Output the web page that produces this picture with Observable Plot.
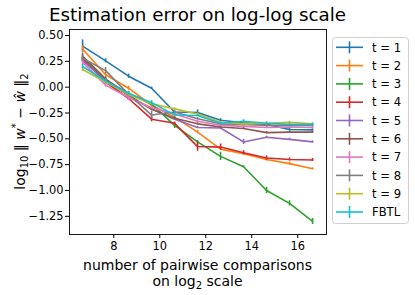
<!DOCTYPE html>
<html>
<head>
<meta charset="utf-8">
<script src="https://cdn.jsdelivr.net/npm/d3@7"></script>
<script src="https://cdn.jsdelivr.net/npm/@observablehq/plot@0.6"></script>
<style>
  html, body { margin: 0; padding: 0; background: #fff; }
  #chart svg { display: block; }
</style>
</head>
<body>
<div id="chart"></div>
<script>
// log2(number of pairwise comparisons)
const xs = [6.644, 7.644, 8.644, 9.644, 10.644, 11.644, 12.644, 13.644, 14.644, 15.644, 16.644];
const seriesNames = ["t = 1", "t = 2", "t = 3", "t = 4", "t = 5", "t = 6", "t = 7", "t = 8", "t = 9", "FBTL"];
const colors = ["#1f77b4", "#ff7f0e", "#2ca02c", "#d62728", "#9467bd", "#8c564b", "#e377c2", "#7f7f7f", "#bcbd22", "#17becf"];

const t1 = [0.397, 0.255, 0.106, -0.01, -0.24, -0.245, -0.32, -0.345, -0.36, -0.41, -0.413];
const t2 = [0.37, 0.12, -0.01, -0.175, -0.29, -0.435, -0.6, -0.645, -0.70, -0.74, -0.79];
const t3 = [0.28, 0.07, -0.06, -0.165, -0.37, -0.53, -0.67, -0.77, -1.00, -1.125, -1.30];
const t4 = [0.27, 0.05, -0.11, -0.31, -0.35, -0.575, -0.58, -0.635, -0.685, -0.70, -0.705];
const t5 = [0.26, 0.06, -0.08, -0.21, -0.31, -0.39, -0.395, -0.53, -0.485, -0.505, -0.53];
const t6 = [0.30, 0.08, -0.08, -0.215, -0.30, -0.355, -0.385, -0.40, -0.44, -0.435, -0.435];
const t7 = [0.24, 0.02, -0.10, -0.20, -0.26, -0.33, -0.37, -0.38, -0.39, -0.385, -0.39];
const t8 = [0.28, 0.16, -0.07, -0.27, -0.24, -0.305, -0.355, -0.36, -0.37, -0.37, -0.37];
const t9 = [0.17, 0.05, -0.07, -0.16, -0.21, -0.26, -0.34, -0.355, -0.35, -0.34, -0.355];
const fbtl = [0.20, 0.06, -0.06, -0.15, -0.27, -0.275, -0.35, -0.33, -0.35, -0.36, -0.36];

const e1 = [0.06, 0.02, 0.02, 0.01, 0.01, 0.025, 0.015, 0.015, 0.01, 0.015, 0.01];
const e2 = [0.03, 0.015, 0.02, 0.015, 0.01, 0.015, 0.01, 0.01, 0.015, 0.015, 0.01];
const e3 = [0.02, 0.02, 0.02, 0.015, 0.03, 0.015, 0.04, 0.01, 0.03, 0.025, 0.03];
const e4 = [0.02, 0.015, 0.02, 0.025, 0.01, 0.045, 0.03, 0.02, 0.02, 0.015, 0.015];
const e5 = [0.02, 0.02, 0.015, 0.02, 0.01, 0.01, 0.015, 0.025, 0.01, 0.01, 0.01];
const e6 = [0.03, 0.02, 0.015, 0.01, 0.01, 0.01, 0.01, 0.01, 0.01, 0.01, 0.01];
const e7 = [0.03, 0.02, 0.03, 0.01, 0.01, 0.01, 0.01, 0.01, 0.01, 0.01, 0.01];
const e8 = [0.03, 0.03, 0.02, 0.035, 0.01, 0.01, 0.01, 0.01, 0.01, 0.01, 0.01];
const e9 = [0.02, 0.02, 0.015, 0.01, 0.01, 0.01, 0.01, 0.01, 0.015, 0.01, 0.01];
const eF = [0.02, 0.02, 0.015, 0.02, 0.02, 0.01, 0.01, 0.015, 0.01, 0.01, 0.01];

const xTicks = [8, 10, 12, 14, 16];
const yTicks = [0.5, 0.25, 0, -0.25, -0.5, -0.75, -1.0, -1.25];

const values = [t1, t2, t3, t4, t5, t6, t7, t8, t9, fbtl];
const errors = [e1, e2, e3, e4, e5, e6, e7, e8, e9, eF];

const table = seriesNames.map((name, s) => xs.map((x, i) => ({
  series: name, x, y: values[s][i], lo: values[s][i] - errors[s][i], hi: values[s][i] + errors[s][i]
})));

const FONT = "DejaVu Sans, sans-serif";
const W = 415, H = 295;
const mL = 69, mR = 89, mT = 29, mB = 61;

const marks = [];
table.forEach((rows) => {
  marks.push(Plot.line(rows, {x: "x", y: "y", stroke: "series", strokeWidth: 1.6}));
  marks.push(Plot.ruleX(rows, {x: "x", y1: "lo", y2: "hi", stroke: "series", strokeWidth: 1.6}));
});

const chart = Plot.plot({
  width: W, height: H,
  marginLeft: mL, marginRight: mR, marginTop: mT, marginBottom: mB,
  style: {fontFamily: FONT, fontSize: "11.4px", color: "#000", background: "#fff"},
  x: {domain: [6.074, 17.25]},
  y: {domain: [-1.426, 0.558]},
  color: {domain: seriesNames, range: colors},
  marks: [
    ...marks,
    Plot.frame({stroke: "#000", strokeWidth: 0.9}),
    Plot.axisX({ticks: xTicks, tickSize: 4, tickPadding: 3, label: null, tickFormat: d3.format("d"), fontSize: 11.4}),
    Plot.axisY({ticks: yTicks, tickSize: 4, tickPadding: 2, label: null, tickFormat: d3.format(".2f"), fontSize: 11.4})
  ]
});

const svg = d3.select(chart);
const cx = mL + (W - mL - mR) / 2;

// title
svg.append("text").attr("x", cx).attr("y", 21).attr("text-anchor", "middle")
  .attr("font-family", FONT).attr("font-size", 18.3).attr("fill", "#000")
  .text("Estimation error on log-log scale");

// x label (two lines)
svg.append("text").attr("x", cx).attr("y", 270).attr("text-anchor", "middle")
  .attr("font-family", FONT).attr("font-size", 14).attr("fill", "#000")
  .text("number of pairwise comparisons");
const xl2 = svg.append("text").attr("x", cx).attr("y", 286).attr("text-anchor", "middle")
  .attr("font-family", FONT).attr("font-size", 14).attr("fill", "#000");
xl2.append("tspan").text("on log");
xl2.append("tspan").attr("font-size", 10).attr("dy", 3).text("2");
xl2.append("tspan").attr("dy", -3).text(" scale");

// y label (rotated)
const yl = svg.append("text")
  .attr("transform", `translate(25,${(mT + H - mB) / 2}) rotate(-90)`)
  .attr("text-anchor", "middle")
  .attr("font-family", FONT).attr("font-size", 14).attr("fill", "#000");
yl.append("tspan").text("log");
yl.append("tspan").attr("font-size", 10).attr("dy", 3).text("10");
yl.append("tspan").attr("dy", -3).text(" \u2016 ");
yl.append("tspan").attr("font-style", "italic").text("w");
yl.append("tspan").attr("font-size", 10).attr("dy", -6).text("*");
yl.append("tspan").attr("dy", 6).text(" \u2212 ");
yl.append("tspan").attr("font-style", "italic").text("\u0175");
yl.append("tspan").text(" \u2016");
yl.append("tspan").attr("font-size", 10).attr("dy", 3).text("2");

// legend
const lg = svg.append("g");
const lx = 332, ly = 37, lw = 76, lh = 186, step = 18.3;
lg.append("rect").attr("x", lx + 0.5).attr("y", ly + 0.5).attr("width", lw).attr("height", lh)
  .attr("rx", 3).attr("fill", "#fff").attr("fill-opacity", 0.8).attr("stroke", "#d0d0d0");
seriesNames.forEach((name, i) => {
  const yy = 47.3 + i * step;
  const c = colors[i];
  lg.append("line").attr("x1", 336).attr("x2", 363).attr("y1", yy).attr("y2", yy)
    .attr("stroke", c).attr("stroke-width", 1.6);
  lg.append("line").attr("x1", 349.5).attr("x2", 349.5).attr("y1", yy - 6).attr("y2", yy + 6)
    .attr("stroke", c).attr("stroke-width", 1.6);
  lg.append("text").attr("x", 372).attr("y", yy + 4.2).attr("text-anchor", "start")
    .attr("font-family", FONT).attr("font-size", 11.6).attr("fill", "#000").text(name);
});

document.getElementById("chart").appendChild(chart);
</script>
</body>
</html>
